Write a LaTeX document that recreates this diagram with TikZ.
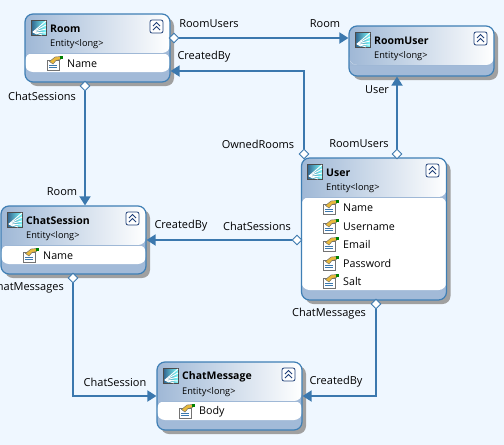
\documentclass[tikz,border=0pt]{standalone}
\usepackage{fontspec}
\setmainfont{Open Sans}
\usetikzlibrary{shapes.geometric, arrows.meta, shadows}
\definecolor{EdmCanvas}{HTML}{EFF7FF}
\definecolor{EdmBlue}{HTML}{3B78AE}
\definecolor{EdmBorder}{HTML}{3F7FB5}
\definecolor{EdmHeader}{HTML}{9FB8D6}
\definecolor{EdmFooter}{HTML}{A2BAD8}
\definecolor{EdmShadow}{HTML}{A0A0A0}
\definecolor{EdmNavy}{HTML}{1F3F78}
\definecolor{EdmGold}{HTML}{E8B93C}
\tikzset{
    % Entity box: #1 = header height, #2 = bottom of the white part
    entity box/.style 2 args={
        rectangle,
        rounded corners=8pt,
        draw=EdmBorder,
        line width=1.2pt,
        fill=EdmFooter,
        minimum width=145pt,
        drop shadow={shadow xshift=4pt, shadow yshift=-4pt, fill=EdmShadow, opacity=1},
        path picture={
            \shade[left color=EdmHeader, middle color=EdmHeader!60!white, right color=white]
                (path picture bounding box.north west) rectangle
                ([yshift=-#1pt]path picture bounding box.north east);
            \fill[white]
                ([yshift=-#1pt]path picture bounding box.north west) rectangle
                ([yshift=-#2pt]path picture bounding box.north east);
            \draw[EdmHeader, line width=0.8pt]
                ([yshift=-#1pt]path picture bounding box.north west) --
                ([yshift=-#1pt]path picture bounding box.north east);
        }
    },
    entity title/.style={anchor=west, inner sep=0pt, font=\fontsize{10.5}{13}\selectfont\bfseries},
    entity type/.style={anchor=west, inner sep=0pt, font=\fontsize{9.2}{11}\selectfont},
    prop label/.style={anchor=west, inner sep=0pt, font=\fontsize{10.7}{13}\selectfont},
    rel label/.style={inner sep=0pt, font=\fontsize{11}{13}\selectfont},
    end diamond/.style={
        diamond,
        draw=EdmBlue,
        fill=white,
        line width=0.9pt,
        inner sep=0pt,
        minimum width=10pt,
        minimum height=10pt
    },
    rel arrow/.style={
        -{Triangle[length=9pt,width=11pt]},
        line width=1.8pt,
        EdmBlue
    },
    entity icon/.pic={
        \shade[left color=EdmBlue!80!black, right color=cyan!50!white, draw=black!70, line width=0.6pt]
            (0,0) rectangle (15,15);
        \foreach \a/\b in {15/1, 15/5, 15/9, 11/15, 6/14, 15/13}
            \draw[white, line width=0.9pt] (2,12) -- (\a,\b);
    },
    prop icon/.pic={
        \draw[black!55, fill=white, line width=0.6pt] (0,4) rectangle (12,14.5);
        \draw[EdmBlue, line width=0.6pt] (2,9) -- (10,9) (2,11.5) -- (10,11.5);
        \fill[EdmGold, draw=black!60, line width=0.4pt]
            (2.5,5.5) -- (8,1) -- (14,0.5) -- (13.5,3.5) -- (9,4.5) -- (6,8) -- cycle;
        \fill[green!50!black] (13,0) rectangle (16,3);
    },
    collapse btn/.pic={
        \draw[EdmNavy, fill=white, rounded corners=2pt, line width=0.8pt] (0,0) rectangle (13,13);
        \draw[EdmNavy, line width=1pt] (3,6) -- (6.5,2.5) -- (10,6) (3,10) -- (6.5,6.5) -- (10,10);
    }
}
\begin{document}
\begin{tikzpicture}[x=1pt, y=-1pt]
    \useasboundingbox (0,0) rectangle (504,445);
    \fill[EdmCanvas] (0,0) rectangle (504,445);

    % Entities
    \node[entity box={39}{58}, minimum height=68pt] (room) at (97.5,48) {};
    \node[entity box={39}{39}, minimum height=50pt] (roomuser) at (421.5,51) {};
    \node[entity box={39}{132}, minimum height=142pt] (user) at (374,229) {};
    \node[entity box={39}{58}, minimum height=68pt] (chatsession) at (73.5,240) {};
    \node[entity box={39}{58}, minimum height=68pt] (chatmessage) at (229.5,396) {};

    % Room
    \pic at (31,20) {entity icon};
    \pic at (150,20) {collapse btn};
    \node[entity title] (room-title) at (50,28.5) {Room};
    \node[entity type] (room-type) at (50,44.5) {Entity<long>};
    \pic at (47,56) {prop icon};
    \node[prop label] (room-name) at (67,63.5) {Name};

    % RoomUser
    \pic at (355,32) {entity icon};
    \pic at (474,32) {collapse btn};
    \node[entity title] (roomuser-title) at (374,40.5) {RoomUser};
    \node[entity type] (roomuser-type) at (374,56.5) {Entity<long>};

    % User
    \pic at (307,164) {entity icon};
    \pic at (426,164) {collapse btn};
    \node[entity title] (user-title) at (326,172.5) {User};
    \node[entity type] (user-type) at (326,188.5) {Entity<long>};
    \foreach \y/\prop in {207.5/Name, 226.5/Username, 244.5/Email, 263.5/Password, 281.5/Salt} {
        \pic at (323,\y-7.5) {prop icon};
        \node[prop label] (user-\prop) at (343,\y) {\prop};
    }

    % ChatSession
    \pic at (7,212) {entity icon};
    \pic at (126,212) {collapse btn};
    \node[entity title] (chatsession-title) at (26,220.5) {ChatSession};
    \node[entity type] (chatsession-type) at (26,236.5) {Entity<long>};
    \pic at (23,248) {prop icon};
    \node[prop label] (chatsession-name) at (43,255.5) {Name};

    % ChatMessage
    \pic at (163,368) {entity icon};
    \pic at (282,368) {collapse btn};
    \node[entity title] (chatmessage-title) at (182,376.5) {ChatMessage};
    \node[entity type] (chatmessage-type) at (182,392.5) {Entity<long>};
    \pic at (179,404) {prop icon};
    \node[prop label] (chatmessage-body) at (199,411.5) {Body};

    % Association ends
    \node[end diamond] (room-roomusers) at (174,38) {};
    \node[end diamond] (room-chatsessions) at (85,86) {};
    \node[end diamond] (user-ownedrooms) at (304,154) {};
    \node[end diamond] (user-roomusers) at (397,154) {};
    \node[end diamond] (user-chatsessions) at (297,240) {};
    \node[end diamond] (user-chatmessages) at (376,304) {};
    \node[end diamond] (chatsession-chatmessages) at (73,278) {};

    % Associations
    \draw[rel arrow] (room-roomusers.east) -- (roomuser.west |- room-roomusers);
    \draw[rel arrow] (user-ownedrooms.north) |- ([yshift=-23pt]room.east);
    \draw[rel arrow] (user-roomusers.north) -- (roomuser.south -| user-roomusers);
    \draw[rel arrow] (room-chatsessions.south) -- (chatsession.north -| room-chatsessions);
    \draw[rel arrow] (user-chatsessions.west) -- (chatsession.east |- user-chatsessions);
    \draw[rel arrow] (chatsession-chatmessages.south) |- (chatmessage.west);
    \draw[rel arrow] (user-chatmessages.south) |- (chatmessage.east);

    % Association labels
    \node[rel label] (lbl-roomusers) at (209,24) {RoomUsers};
    \node[rel label] (lbl-room) at (325,24) {Room};
    \node[rel label] (lbl-createdby) at (204,57) {CreatedBy};
    \node[rel label] (lbl-chatsessions) at (42,96) {ChatSessions};
    \node[rel label] (lbl-user) at (377,90) {User};
    \node[rel label] (lbl-userroomusers) at (359,144) {RoomUsers};
    \node[rel label] (lbl-ownedrooms) at (258,144) {OwnedRooms};
    \node[rel label] (lbl-sessionroom) at (62,192) {Room};
    \node[rel label] (lbl-sessioncreatedby) at (181,226) {CreatedBy};
    \node[rel label] (lbl-userchatsessions) at (257,226) {ChatSessions};
    \node[rel label, anchor=east] (lbl-chatmessages) at (64,288) {ChatMessages};
    \node[rel label] (lbl-userchatmessages) at (329,314) {ChatMessages};
    \node[rel label] (lbl-chatsession) at (115,382) {ChatSession};
    \node[rel label] (lbl-msgcreatedby) at (336,382) {CreatedBy};
\end{tikzpicture}
\end{document}
